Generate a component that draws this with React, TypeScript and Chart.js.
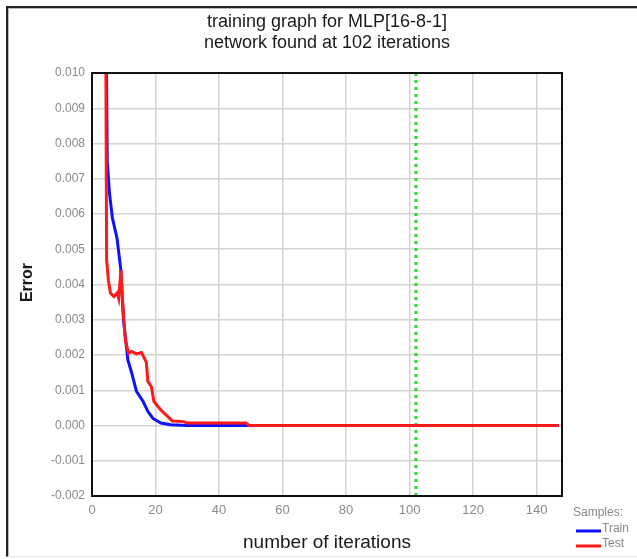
import React, { useEffect, useRef } from "react";
import { Chart, registerables } from "chart.js";

Chart.register(...registerables);

const titleLines = ["training graph for MLP[16-8-1]", "network found at 102 iterations"];
const xAxisTitle = "number of iterations";
const yAxisTitle = "Error";
const legendTitle = "Samples:";
const seriesNames = ["Train", "Test"];

const xTicks = [0, 20, 40, 60, 80, 100, 120, 140];
const yTicks = [-0.002, -0.001, 0, 0.001, 0.002, 0.003, 0.004, 0.005, 0.006, 0.007, 0.008, 0.009, 0.01];

const trainIter = [4.4, 4.8, 5.5, 6.4, 7.9, 9.1, 9.9, 11.3, 12.5, 14, 16.1, 17.6, 19.2, 21.7, 24.8, 30, 147];
const trainErr = [0.012, 0.0075, 0.0066, 0.0059, 0.0053, 0.0044, 0.003, 0.00186, 0.00149, 0.00097, 0.00068, 0.0004, 0.0002, 0.00007, 0.00002, 0, 0];

const testIter = [4.3, 4.6, 5.2, 5.8, 6.9, 7.9, 8.4, 9.1, 9.6, 10.5, 11.5, 12.5, 14, 15.6, 17.1, 17.6, 18.7, 19.5, 21.7, 23.8, 25.3, 28.9, 30, 48.5, 49.5, 147];
const testErr = [0.012, 0.0047, 0.0041, 0.00376, 0.00366, 0.00376, 0.0036, 0.0044, 0.00357, 0.00243, 0.00205, 0.0021, 0.00203, 0.00207, 0.0018, 0.00125, 0.0011, 0.00068, 0.00044, 0.00026, 0.00013, 0.00011, 0.00007, 0.00007, 0, 0];

const foundAt = 102;

const FONT = "'Liberation Sans', Arial, sans-serif";
const BLUE = "#1010ff";
const RED = "#ff1a1a";

export default function App() {
  const ref = useRef<HTMLCanvasElement | null>(null);

  useEffect(() => {
    if (!ref.current) return;
    const textPlugin = {
      id: "textPlugin",
      afterDraw(chart: any) {
        const ctx = chart.ctx;
        const a = chart.chartArea;
        ctx.save();
        // plot frame
        ctx.strokeStyle = "#111";
        ctx.lineWidth = 2;
        ctx.strokeRect(a.left, a.top, a.right - a.left, a.bottom - a.top);
        // title
        ctx.fillStyle = "#1a1a1a";
        ctx.textAlign = "center";
        ctx.textBaseline = "middle";
        ctx.font = `18px ${FONT}`;
        const cx = (a.left + a.right) / 2;
        ctx.fillText(titleLines[0], cx, 22);
        ctx.fillText(titleLines[1], cx, 43);
        // x axis title
        ctx.font = `19px ${FONT}`;
        ctx.fillText(xAxisTitle, cx, 543);
        // y axis title
        ctx.save();
        ctx.translate(28, (a.top + a.bottom) / 2 - 2);
        ctx.rotate(-Math.PI / 2);
        ctx.font = `bold 16px ${FONT}`;
        ctx.fillText(yAxisTitle, 0, 0);
        ctx.restore();
        // legend
        ctx.textAlign = "left";
        ctx.font = `12px ${FONT}`;
        ctx.fillStyle = "#888";
        ctx.fillText(legendTitle, 573, 513);
        const colors = [BLUE, RED];
        for (let i = 0; i < 2; i++) {
          const y = 531 + i * 15;
          ctx.strokeStyle = colors[i];
          ctx.lineWidth = 3;
          ctx.beginPath();
          ctx.moveTo(576, y);
          ctx.lineTo(601, y);
          ctx.stroke();
          ctx.fillStyle = "#888";
          ctx.fillText(seriesNames[i], 602, y - 2);
        }
        ctx.restore();
      },
    };

    const chart = new Chart(ref.current, {
      type: "scatter",
      data: {
        datasets: [
          {
            label: seriesNames[1],
            data: testIter.map((x, i) => ({ x, y: testErr[i] })),
            showLine: true,
            borderColor: RED,
            borderWidth: 3,
            pointRadius: 0,
            tension: 0,
            order: 1,
          },
          {
            label: seriesNames[0],
            data: trainIter.map((x, i) => ({ x, y: trainErr[i] })),
            showLine: true,
            borderColor: BLUE,
            borderWidth: 3,
            pointRadius: 0,
            tension: 0,
            order: 2,
          },
          {
            label: "found",
            data: [
              { x: foundAt, y: yTicks[0] },
              { x: foundAt, y: yTicks[yTicks.length - 1] },
            ],
            showLine: true,
            borderColor: "#22dd22",
            borderWidth: 3,
            borderDash: [3, 4],
            pointRadius: 0,
            order: 3,
          },
        ],
      },
      options: {
        responsive: false,
        animation: false,
        layout: { padding: { top: 73, left: 0, right: 75, bottom: 0 } },
        plugins: {
          legend: { display: false },
          title: { display: false },
          tooltip: { enabled: false },
        },
        scales: {
          x: {
            type: "linear",
            min: 0,
            max: 148,
            afterBuildTicks: (s: any) => {
              s.ticks = xTicks.map((v) => ({ value: v }));
            },
            afterFit: (s: any) => {
              s.height = 63;
            },
            ticks: {
              color: "#8a8a8a",
              font: { family: FONT, size: 13 },
              padding: 7,
              maxRotation: 0,
            },
            grid: { color: "#d4d4d4", lineWidth: 1.5, drawTicks: false },
            border: { color: "#111", width: 2 },
          },
          y: {
            type: "linear",
            min: -0.002,
            max: 0.01,
            afterBuildTicks: (s: any) => {
              s.ticks = yTicks.map((v) => ({ value: v }));
            },
            afterFit: (s: any) => {
              s.width = 92;
            },
            ticks: {
              color: "#8a8a8a",
              font: { family: FONT, size: 12 },
              padding: 7,
              callback: (v: any) => Number(v).toFixed(3),
            },
            grid: { color: "#d4d4d4", lineWidth: 1.5, drawTicks: false },
            border: { color: "#111", width: 2 },
          },
        },
      },
      plugins: [textPlugin],
    } as any);
    return () => chart.destroy();
  }, []);

  return (
    <div style={{ position: "absolute", left: 0, top: 0, width: 637, height: 559, background: "#fff", overflow: "hidden" }}>
      <div
        style={{
          position: "absolute",
          left: 6,
          top: 6,
          right: -4,
          bottom: 2,
          borderLeft: "2px solid #222",
          borderTop: "2px solid #222",
          borderBottom: "1px solid #e6e6e6",
          boxShadow: "inset 1px 1px 0 #bbb",
        }}
      />
      <canvas ref={ref} width={637} height={559} style={{ position: "absolute", left: 0, top: 0 }} />
    </div>
  );
}
